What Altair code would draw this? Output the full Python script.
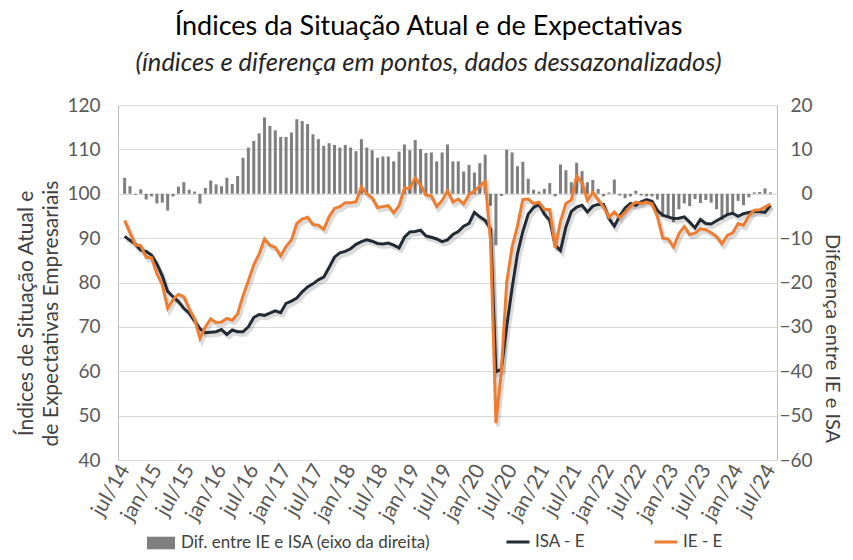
import json
import altair as alt
import pandas as pd

# Monthly values, jul/2014 .. jul/2024 (121 months)
ISA = [
    90.4, 89.5, 88.7, 87.3, 87.0, 86.2,
    84.2, 81.5, 78.0, 76.8, 75.7, 74.2, 73.1, 71.3, 69.6, 68.7, 68.8, 68.9,
    69.4, 68.3, 69.3, 68.9, 68.9, 70.0, 72.1, 72.8, 72.6, 73.1, 73.6, 73.2,
    75.3, 75.8, 76.5, 77.9, 79.0, 79.7, 80.6, 81.2, 83.4, 85.7, 86.7, 87.0,
    87.6, 88.6, 89.2, 89.6, 89.3, 88.8, 88.7, 88.9, 88.4, 87.8, 90.2, 91.4,
    91.5, 91.8, 90.5, 90.2, 89.8, 89.2, 89.6, 90.8, 91.5, 92.7, 93.3, 95.8,
    94.8, 94.0, 92.0, 59.9, 60.4, 70.1, 78.7, 86.5, 91.5, 95.4, 96.9, 97.6,
    95.4, 94.0, 88.4, 87.2, 92.5, 96.0, 97.0, 97.4, 95.9, 97.2, 97.6, 97.6,
    94.4, 92.7, 95.0, 96.8, 97.8, 97.4, 98.2, 98.7, 98.3, 96.2, 95.2, 94.8,
    94.4, 94.5, 94.8, 93.6, 92.3, 94.2, 93.3, 93.2, 93.9, 94.6, 95.3, 95.6,
    94.9, 95.5, 95.8, 96.0, 96.0, 95.8, 97.4,
]
IE = [
    94.0, 91.2, 88.5, 88.3, 85.7, 85.6,
    82.0, 79.5, 74.2, 76.2, 77.3, 76.8, 74.0, 71.8, 67.4, 70.0, 71.8, 71.0,
    71.1, 71.9, 71.5, 72.9, 77.0, 80.4, 84.0, 86.4, 89.8, 88.4, 87.9, 86.0,
    88.1, 89.6, 93.3, 94.3, 94.7, 93.1, 92.9, 92.0, 94.8, 96.7, 97.1, 98.0,
    98.0, 98.2, 101.5, 100.0, 99.1, 96.9, 97.1, 97.3, 95.7, 97.3, 101.3, 101.2,
    103.6, 101.9, 99.7, 99.5, 97.1, 98.5, 100.7, 98.1, 98.8, 97.7, 99.8, 100.6,
    101.7, 102.8, 89.3, 48.3, 59.9, 80.0, 88.0, 92.7, 98.7, 98.8, 97.8, 98.1,
    96.5, 96.4, 87.8, 93.8, 97.8, 98.6, 104.0, 102.5, 98.5, 100.3, 98.7, 97.0,
    94.7, 95.9, 94.6, 95.8, 97.2, 98.1, 97.8, 98.1, 97.7, 94.9, 90.0, 89.8,
    88.0, 91.0, 92.6, 90.8, 91.1, 92.1, 91.9, 91.2, 90.4, 88.7, 90.6, 91.2,
    93.3, 92.9, 95.0, 96.3, 96.4, 97.0, 97.7,
]
DIF = [
    3.6, 1.7, -0.2, 1.0, -1.3, -0.6,
    -2.2, -2.0, -3.8, -0.6, 1.6, 2.6, 0.9, 0.5, -2.2, 1.3, 3.0, 2.1,
    1.7, 3.6, 2.2, 4.0, 8.1, 10.4, 11.9, 13.6, 17.2, 15.3, 14.3, 12.8,
    12.8, 13.8, 16.8, 16.4, 15.7, 13.4, 12.3, 10.8, 11.4, 11.0, 10.4, 11.0,
    10.4, 9.6, 12.3, 10.4, 9.8, 8.1, 8.4, 8.4, 7.3, 9.5, 11.1, 9.8,
    12.1, 10.1, 9.2, 9.3, 7.3, 9.3, 11.1, 7.3, 7.3, 5.0, 6.5, 4.8,
    6.9, 8.8, -2.7, -11.6, -0.5, 9.9, 9.3, 6.2, 7.2, 3.4, 0.9, 0.5,
    1.1, 2.4, -0.6, 6.6, 5.3, 2.6, 7.0, 5.1, 2.6, 3.1, 1.1, -0.6,
    0.3, 3.2, -0.4, -1.0, -0.6, 0.7, -0.4, -0.6, -0.6, -1.3, -5.2, -5.0,
    -6.4, -3.5, -2.2, -2.8, -1.2, -2.1, -1.4, -2.0, -3.5, -5.9, -4.7, -4.4,
    -1.6, -2.6, -0.8, 0.3, 0.4, 1.2, 0.3,
]
TICK_LABELS = [
    "jul/14", "jan/15", "jul/15", "jan/16", "jul/16", "jan/17", "jul/17",
    "jan/18", "jul/18", "jan/19", "jul/19", "jan/20", "jul/20", "jan/21",
    "jul/21", "jan/22", "jul/22", "jan/23", "jul/23", "jan/24", "jul/24",
]
SERIES = ["ISA - E", "IE - E"]
BAR_LABEL = "Dif. entre IE e ISA (eixo da direita)"

n = len(ISA)
df = pd.DataFrame({"i": list(range(n)), "ISA - E": ISA, "IE - E": IE, "dif": DIF})

FONT = "Lato"
LBL = "#595959"
TTL = "#404040"

x_enc = alt.X(
    "i:Q",
    scale=alt.Scale(domain=[-0.3, n - 1 + 0.3], nice=False, zero=False),
    axis=alt.Axis(
        values=list(range(0, n, 6)),
        labelExpr=json.dumps(TICK_LABELS) + "[round(datum.value / 6)]",
        labelAngle=-60, labelAlign="right", labelBaseline="middle",
        labelFontSize=21, labelColor=LBL, labelFont=FONT, labelPadding=6,
        labelOverlap=False, grid=False, ticks=False, domain=False, title=None,
    ),
)

bars = alt.Chart(df).transform_calculate(lbl=f"'{BAR_LABEL}'").mark_bar(size=3).encode(
    x=x_enc,
    y=alt.Y(
        "dif:Q",
        scale=alt.Scale(domain=[-60, 20], nice=False),
        axis=alt.Axis(
            orient="right", values=list(range(-60, 21, 10)), grid=False, ticks=False,
            domain=True, domainColor="#bfbfbf", labelAlign="right", labelPadding=35,
            labelFontSize=19, labelColor=LBL, labelFont=FONT, labelOverlap=False,
            title="Diferença entre IE e ISA", titleAngle=90, titleX=54, titleY=233,
            titleBaseline="middle", titleAlign="center",
            titleFontSize=20, titleColor=TTL, titleFont=FONT, titleFontWeight="normal",
        ),
    ),
    fill=alt.Fill(
        "lbl:N",
        scale=alt.Scale(domain=[BAR_LABEL], range=["#7f7f7f"]),
        legend=alt.Legend(
            orient="none", legendX=29, legendY=424, title=None,
            symbolType="M-1,-0.45L1,-0.45L1,0.45L-1,0.45Z", symbolSize=784,
            symbolStrokeWidth=0, labelFontSize=17, labelFont=FONT, labelColor=TTL,
            labelOffset=6, labelLimit=0,
        ),
    ),
)

y_left = alt.Y(
    "valor:Q",
    scale=alt.Scale(domain=[40, 120], nice=False),
    axis=alt.Axis(
        values=list(range(40, 121, 10)), grid=True, gridColor="#d9d9d9", ticks=False,
        domain=True, domainColor="#bfbfbf", labelPadding=18, labelFontSize=19,
        labelColor=LBL, labelFont=FONT, labelOverlap=False,
        title=["Índices de Situação Atual e", "de Expectativas Empresariais"],
        titleAngle=-90, titleX=-103, titleY=208, titleBaseline="top",
        titleAlign="center", titleLineHeight=25,
        titleFontSize=21, titleColor=TTL, titleFont=FONT, titleFontWeight="normal",
    ),
)

stroke_enc = alt.Stroke(
    "serie:N",
    scale=alt.Scale(domain=SERIES, range=["#222a35", "#ed7d31"]),
    legend=alt.Legend(
        orient="none", legendX=387, legendY=424, title=None, direction="horizontal",
        symbolType="stroke", symbolStrokeWidth=3, symbolSize=529, columnPadding=62,
        labelFontSize=17, labelFont=FONT, labelColor=TTL, labelOffset=4,
    ),
)

folded = alt.Chart(df).transform_fold(SERIES, as_=["serie", "valor"])

shadow = folded.mark_line(strokeWidth=4, color="#000000", opacity=0.14, xOffset=2, yOffset=3).encode(
    x=x_enc, y=y_left, detail="serie:N"
)
isa_line = folded.transform_filter(alt.datum.serie == "ISA - E").mark_line(strokeWidth=3).encode(
    x=x_enc, y=y_left, stroke=stroke_enc
)
ie_line = folded.transform_filter(alt.datum.serie == "IE - E").mark_line(strokeWidth=3).encode(
    x=x_enc, y=y_left, stroke=stroke_enc
)

lines = alt.layer(shadow, isa_line, ie_line)

chart = (
    alt.layer(bars, lines)
    .resolve_scale(y="independent")
    .properties(
        width=659, height=355,
        padding={"left": 110, "top": 97, "right": 68, "bottom": 92},
        autosize=alt.AutoSizeParams(type="none"),
        title=alt.TitleParams(
            text="Índices da Situação Atual e de Expectativas",
            subtitle="(índices e diferença em pontos, dados dessazonalizados)",
            anchor="middle", dx=-19, offset=19, subtitlePadding=10,
            font=FONT, fontSize=27, fontWeight="normal", color="#000000",
            subtitleFont=FONT, subtitleFontSize=25.5, subtitleFontStyle="italic",
            subtitleColor="#262626",
        ),
    )
    .configure_view(stroke=None)
)

chart.save("out.html", embed_options={"renderer": "svg", "actions": False})
